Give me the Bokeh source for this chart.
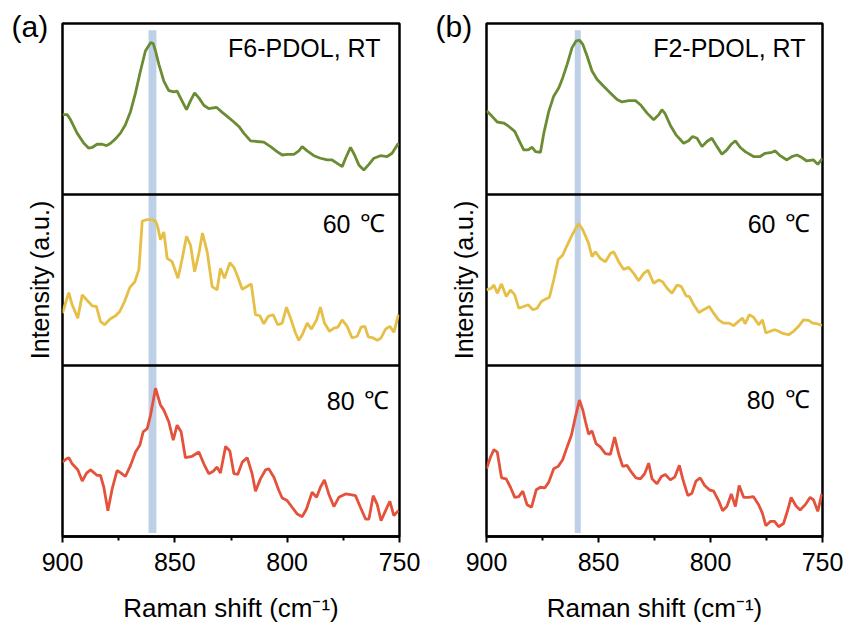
from bokeh.plotting import figure
from bokeh.models import Range1d, Span, BoxAnnotation, Label, FixedTicker
from bokeh.layouts import row
from bokeh.embed import file_html
from bokeh.resources import INLINE

# ---------------- Panel (a): F6-PDOL ----------------
a_rt_x = [900.0, 897.9, 896.4, 893.5, 890.5, 888.3, 886.8, 884.6, 882.3, 880.4,
          878.6, 876.4, 874.2, 872.0, 869.7, 867.5, 865.3, 863.1, 860.8, 859.6,
          858.6, 857.1, 854.9, 852.7, 850.4, 849.0, 846.7, 844.8, 843.0, 841.2,
          839.3, 837.1, 834.9, 831.5, 828.9, 826.7, 823.7, 821.5, 819.3, 816.3,
          813.4, 810.4, 807.4, 804.5, 802.2, 800.0, 797.0, 794.8, 793.3, 791.1,
          788.1, 785.2, 782.2, 780.0, 777.7, 775.5, 774.0, 771.8, 770.0, 768.1,
          765.9, 763.6, 761.4, 758.5, 755.5, 753.3, 750.5]
a_rt_y = [0.467, 0.467, 0.437, 0.359, 0.300, 0.271, 0.275, 0.294, 0.294, 0.286,
          0.300, 0.325, 0.359, 0.408, 0.486, 0.594, 0.722, 0.839, 0.888, 0.882,
          0.839, 0.761, 0.663, 0.608, 0.600, 0.604, 0.545, 0.496, 0.549, 0.594,
          0.565, 0.522, 0.502, 0.510, 0.480, 0.457, 0.424, 0.398, 0.359, 0.314,
          0.310, 0.306, 0.280, 0.251, 0.231, 0.235, 0.235, 0.255, 0.280, 0.255,
          0.227, 0.212, 0.202, 0.202, 0.182, 0.163, 0.212, 0.276, 0.231, 0.173,
          0.143, 0.176, 0.212, 0.227, 0.222, 0.241, 0.300]

a_60_x = [900.0, 898.7, 897.2, 895.7, 893.2, 891.2, 889.0, 886.8, 884.9, 883.1,
          881.3, 878.9, 876.4, 874.5, 872.4, 870.0, 867.8, 866.0, 864.5, 862.3,
          860.1, 858.6, 857.6, 856.4, 854.9, 853.4, 851.2, 848.6, 846.7, 844.8,
          843.0, 841.2, 839.3, 837.7, 835.6, 833.4, 831.2, 829.7, 827.9, 825.5,
          823.7, 822.0, 820.0, 816.0, 814.1, 812.2, 810.4, 808.5, 806.2, 804.2,
          802.2, 800.3, 798.5, 796.3, 794.8, 793.3, 791.1, 789.2, 786.9, 785.2,
          783.4, 781.2, 779.2, 777.4, 775.5, 773.3, 771.1, 768.8, 767.1, 765.4,
          763.9, 761.7, 759.9, 758.2, 756.2, 754.3, 752.5, 750.5]
a_60_y = [0.306, 0.364, 0.426, 0.355, 0.277, 0.413, 0.380, 0.349, 0.345, 0.258,
          0.238, 0.271, 0.291, 0.316, 0.374, 0.457, 0.490, 0.562, 0.845, 0.853,
          0.853, 0.845, 0.810, 0.736, 0.781, 0.626, 0.607, 0.510, 0.626, 0.756,
          0.703, 0.548, 0.655, 0.775, 0.665, 0.461, 0.442, 0.568, 0.510, 0.601,
          0.574, 0.519, 0.446, 0.477, 0.297, 0.291, 0.244, 0.287, 0.297, 0.238,
          0.248, 0.341, 0.277, 0.190, 0.147, 0.180, 0.248, 0.213, 0.267, 0.341,
          0.248, 0.200, 0.219, 0.225, 0.267, 0.229, 0.161, 0.171, 0.225, 0.229,
          0.167, 0.161, 0.147, 0.161, 0.213, 0.229, 0.194, 0.297]

a_80_x = [900.0, 898.2, 897.2, 895.7, 893.2, 891.2, 889.3, 887.5, 885.8, 884.6,
          883.1, 881.6, 879.8, 877.9, 875.7, 873.9, 872.0, 869.7, 867.5, 865.6,
          864.1, 862.3, 860.8, 858.6, 856.4, 854.9, 852.7, 850.7, 849.0, 847.2,
          845.3, 842.3, 839.3, 837.1, 834.9, 832.9, 831.2, 829.7, 827.4, 825.5,
          823.7, 822.0, 820.0, 817.8, 815.6, 814.1, 811.9, 809.6, 808.2, 805.9,
          803.7, 802.2, 800.0, 797.8, 795.5, 793.3, 791.4, 788.9, 786.9, 785.2,
          783.4, 781.5, 779.2, 777.0, 774.0, 771.8, 769.6, 767.4, 765.1, 763.6,
          761.7, 759.9, 758.2, 756.2, 754.3, 752.5, 750.5]
a_80_y = [0.435, 0.455, 0.461, 0.425, 0.390, 0.324, 0.371, 0.390, 0.371, 0.357,
          0.357, 0.288, 0.151, 0.278, 0.386, 0.371, 0.351, 0.416, 0.494, 0.533,
          0.612, 0.631, 0.710, 0.867, 0.769, 0.739, 0.671, 0.563, 0.651, 0.612,
          0.461, 0.469, 0.494, 0.425, 0.367, 0.382, 0.406, 0.371, 0.527, 0.500,
          0.367, 0.363, 0.435, 0.461, 0.367, 0.265, 0.337, 0.390, 0.396, 0.347,
          0.269, 0.225, 0.210, 0.171, 0.131, 0.116, 0.161, 0.259, 0.229, 0.288,
          0.331, 0.249, 0.175, 0.229, 0.249, 0.245, 0.239, 0.171, 0.102, 0.102,
          0.239, 0.186, 0.092, 0.151, 0.206, 0.122, 0.151]

# ---------------- Panel (b): F2-PDOL ----------------
b_rt_x = [900.0, 897.5, 895.2, 892.3, 890.0, 887.4, 885.6, 883.4, 881.4, 879.6,
          878.1, 875.9, 874.4, 872.2, 870.0, 867.7, 866.0, 864.0, 861.8, 860.0,
          858.5, 857.0, 855.1, 852.9, 850.6, 847.7, 844.7, 841.7, 839.5, 836.5,
          833.5, 831.3, 828.3, 825.4, 823.1, 821.7, 820.2, 817.9, 815.4, 812.0,
          809.8, 808.0, 806.0, 803.8, 801.6, 799.4, 797.1, 794.9, 792.7, 790.7,
          788.9, 786.7, 784.5, 780.8, 777.8, 775.6, 772.6, 771.1, 768.9, 765.9,
          763.7, 761.4, 759.2, 757.0, 754.0, 752.1, 750.0]
b_rt_y = [0.490, 0.457, 0.424, 0.418, 0.398, 0.369, 0.320, 0.261, 0.261, 0.276,
          0.251, 0.247, 0.359, 0.486, 0.575, 0.624, 0.682, 0.761, 0.859, 0.898,
          0.902, 0.878, 0.810, 0.722, 0.673, 0.633, 0.594, 0.555, 0.541, 0.549,
          0.549, 0.525, 0.476, 0.437, 0.467, 0.496, 0.471, 0.404, 0.349, 0.300,
          0.314, 0.339, 0.329, 0.280, 0.310, 0.329, 0.280, 0.235, 0.261, 0.294,
          0.314, 0.275, 0.251, 0.222, 0.222, 0.241, 0.247, 0.255, 0.227, 0.202,
          0.222, 0.231, 0.216, 0.196, 0.202, 0.176, 0.212]

b_60_x = [900.0, 897.8, 896.7, 895.2, 893.3, 891.2, 889.3, 887.4, 885.6, 883.4,
          881.4, 879.3, 877.4, 875.5, 873.7, 871.9, 870.0, 868.0, 866.0, 864.0,
          861.8, 860.0, 858.8, 857.3, 855.6, 854.4, 852.9, 851.4, 849.2, 846.9,
          844.7, 843.2, 841.0, 838.8, 836.5, 834.3, 832.1, 829.8, 827.9, 825.4,
          823.1, 821.4, 819.4, 817.2, 814.9, 813.0, 810.9, 809.4, 807.5, 805.2,
          803.1, 800.5, 798.6, 796.4, 794.2, 791.7, 789.7, 787.5, 785.7, 784.5,
          782.7, 780.8, 778.5, 776.8, 775.3, 773.3, 771.4, 769.6, 767.4, 765.2,
          762.9, 760.7, 758.5, 756.2, 754.4, 752.1, 750.3]
b_60_y = [0.442, 0.452, 0.471, 0.422, 0.477, 0.403, 0.442, 0.413, 0.335, 0.345,
          0.355, 0.326, 0.335, 0.374, 0.388, 0.399, 0.500, 0.620, 0.645, 0.703,
          0.762, 0.806, 0.829, 0.800, 0.752, 0.713, 0.636, 0.665, 0.626, 0.607,
          0.655, 0.665, 0.607, 0.562, 0.574, 0.539, 0.496, 0.539, 0.558, 0.481,
          0.500, 0.490, 0.452, 0.422, 0.471, 0.461, 0.407, 0.403, 0.355, 0.310,
          0.326, 0.345, 0.306, 0.267, 0.248, 0.248, 0.233, 0.258, 0.277, 0.244,
          0.297, 0.283, 0.238, 0.267, 0.190, 0.200, 0.209, 0.200, 0.186, 0.180,
          0.200, 0.229, 0.267, 0.264, 0.248, 0.244, 0.233]

b_80_x = [900.0, 898.2, 896.7, 895.2, 893.3, 891.2, 889.3, 887.4, 885.6, 883.8,
          881.9, 879.9, 877.8, 875.9, 874.0, 872.2, 870.0, 868.0, 866.0, 864.0,
          862.1, 860.3, 858.5, 857.0, 855.8, 854.4, 852.9, 851.1, 849.2, 846.9,
          844.7, 842.8, 841.0, 839.2, 837.3, 835.3, 833.3, 831.3, 829.4, 827.6,
          826.1, 823.9, 821.9, 820.2, 817.9, 816.0, 813.9, 812.4, 810.1, 808.3,
          806.5, 804.6, 802.6, 800.5, 798.6, 796.4, 794.6, 792.7, 790.7, 788.9,
          787.2, 785.2, 783.0, 780.8, 778.5, 776.8, 775.3, 773.3, 771.4, 769.6,
          767.4, 765.5, 764.0, 761.9, 760.0, 757.7, 755.5, 754.0, 752.1, 750.3]
b_80_y = [0.396, 0.465, 0.508, 0.494, 0.343, 0.337, 0.288, 0.229, 0.233, 0.265,
          0.186, 0.171, 0.273, 0.288, 0.284, 0.318, 0.396, 0.410, 0.449, 0.524,
          0.592, 0.700, 0.798, 0.739, 0.671, 0.598, 0.618, 0.543, 0.524, 0.484,
          0.480, 0.582, 0.484, 0.410, 0.416, 0.376, 0.343, 0.337, 0.367, 0.429,
          0.337, 0.308, 0.351, 0.363, 0.331, 0.347, 0.416, 0.337, 0.239, 0.253,
          0.324, 0.343, 0.298, 0.273, 0.265, 0.210, 0.151, 0.175, 0.249, 0.175,
          0.298, 0.229, 0.229, 0.233, 0.186, 0.135, 0.063, 0.088, 0.088, 0.057,
          0.076, 0.155, 0.229, 0.180, 0.155, 0.186, 0.229, 0.214, 0.147, 0.249]

x_ticks = [900, 850, 800, 750]
x_minor_ticks = [875, 825, 775]
band_a = (858.2, 861.7)
band_b = (857.9, 860.6)
sample_a = "F6-PDOL, RT"
sample_b = "F2-PDOL, RT"
temp_labels = ["60", "80"]
deg_symbol = "\u2103"
y_title = "Intensity (a.u.)"
x_title = "Raman shift (cm\u207b\u00b9)"

GREEN = "#6b8c33"
YELLOW = "#e5bf46"
RED = "#e4523b"
BAND = "#bdd0e7"
SANS = "Liberation Sans"


def make_panel(letter, series, band, sample, width, border_left, title_offset, label_pos):
    p = figure(width=width, height=626, output_backend="svg", toolbar_location=None,
               x_range=Range1d(900, 750), y_range=Range1d(0, 3),
               min_border_left=border_left,
               min_border_right=23, min_border_top=23, min_border_bottom=90)
    p.extra_y_ranges = {"top": Range1d(-2, 1), "mid": Range1d(-1, 2), "bot": Range1d(0, 3)}
    p.grid.visible = False
    p.outline_line_color = "black"
    p.outline_line_width = 2.5
    p.background_fill_color = "white"
    p.border_fill_color = "white"

    p.add_layout(BoxAnnotation(left=band[0], right=band[1], bottom=0.02, top=2.96,
                               fill_color=BAND, fill_alpha=1.0, line_color=None,
                               level="underlay"))

    for (xs, ys, rng, col) in series:
        p.line(xs, ys, y_range_name=rng, line_color=col, line_width=2.8)

    for loc in (1, 2):
        p.add_layout(Span(location=loc, dimension="width", line_color="black",
                          line_width=2.5))

    ax = p.xaxis[0]
    ax.ticker = FixedTicker(ticks=x_ticks, minor_ticks=x_minor_ticks)
    ax.axis_line_width = 2.5
    ax.axis_line_color = "black"
    ax.major_tick_line_width = 2
    ax.major_tick_line_color = "black"
    ax.major_tick_in = 0
    ax.major_tick_out = 6
    ax.minor_tick_line_width = 2
    ax.minor_tick_line_color = "black"
    ax.minor_tick_in = 0
    ax.minor_tick_out = 4
    ax.major_label_text_font = SANS
    ax.major_label_text_font_size = "25px"
    ax.major_label_text_color = "black"
    ax.major_label_standoff = 10
    ax.axis_label = x_title
    ax.axis_label_text_font = SANS
    ax.axis_label_text_font_style = "normal"
    ax.axis_label_text_font_size = "26px"
    ax.axis_label_text_color = "black"
    ax.axis_label_standoff = 19

    yax = p.yaxis[0]
    yax.ticker = FixedTicker(ticks=[])
    yax.axis_line_color = None
    yax.major_tick_out = 0
    yax.major_tick_in = 0
    yax.minor_tick_out = 0
    yax.minor_tick_in = 0
    yax.major_label_text_font_size = "0px"
    yax.axis_label = y_title
    yax.axis_label_text_font = SANS
    yax.axis_label_text_font_style = "normal"
    yax.axis_label_text_font_size = "25px"
    yax.axis_label_text_color = "black"
    yax.axis_label_standoff = 9

    p.title.text = letter
    p.title.align = "left"
    p.title.offset = title_offset
    p.title.text_font = SANS
    p.title.text_font_style = "normal"
    p.title.text_font_size = "30px"
    p.title.text_color = "black"
    p.title.standoff = -39

    lp = label_pos
    p.add_layout(Label(x=lp["sample_x"], y=2.854, text=sample, text_font=SANS,
                       text_font_size="25px", text_color="black",
                       text_align="right", text_baseline="middle"))
    for t, yv, nx, dx in zip(temp_labels, lp["temp_y"], lp["num_x"], lp["deg_x"]):
        p.add_layout(Label(x=nx, y=yv, text=t, text_font=SANS,
                           text_font_size="25px", text_color="black",
                           text_align="right", text_baseline="middle"))
        p.add_layout(Label(x=dx, y=yv, text=deg_symbol, text_font="Liberation Serif",
                           text_font_size="25px", text_color="black",
                           text_align="right", text_baseline="middle"))
    return p


pa = make_panel("(a)",
                [(a_rt_x, a_rt_y, "top", GREEN),
                 (a_60_x, a_60_y, "mid", YELLOW),
                 (a_80_x, a_80_y, "bot", RED)],
                band_a, sample_a, 422, 62, -51,
                dict(sample_x=758.5, temp_y=[1.830, 0.795], num_x=[771.8, 770.0],
                     deg_x=[756.3, 754.5]))
pb = make_panel("(b)",
                [(b_rt_x, b_rt_y, "top", GREEN),
                 (b_60_x, b_60_y, "mid", YELLOW),
                 (b_80_x, b_80_y, "bot", RED)],
                band_b, sample_b, 423, 64, -51,
                dict(sample_x=757.6, temp_y=[1.830, 0.801], num_x=[771.0, 771.4],
                     deg_x=[755.4, 755.8]))

layout = row(pa, pb)
open("out.html", "w").write(file_html(layout, INLINE))
